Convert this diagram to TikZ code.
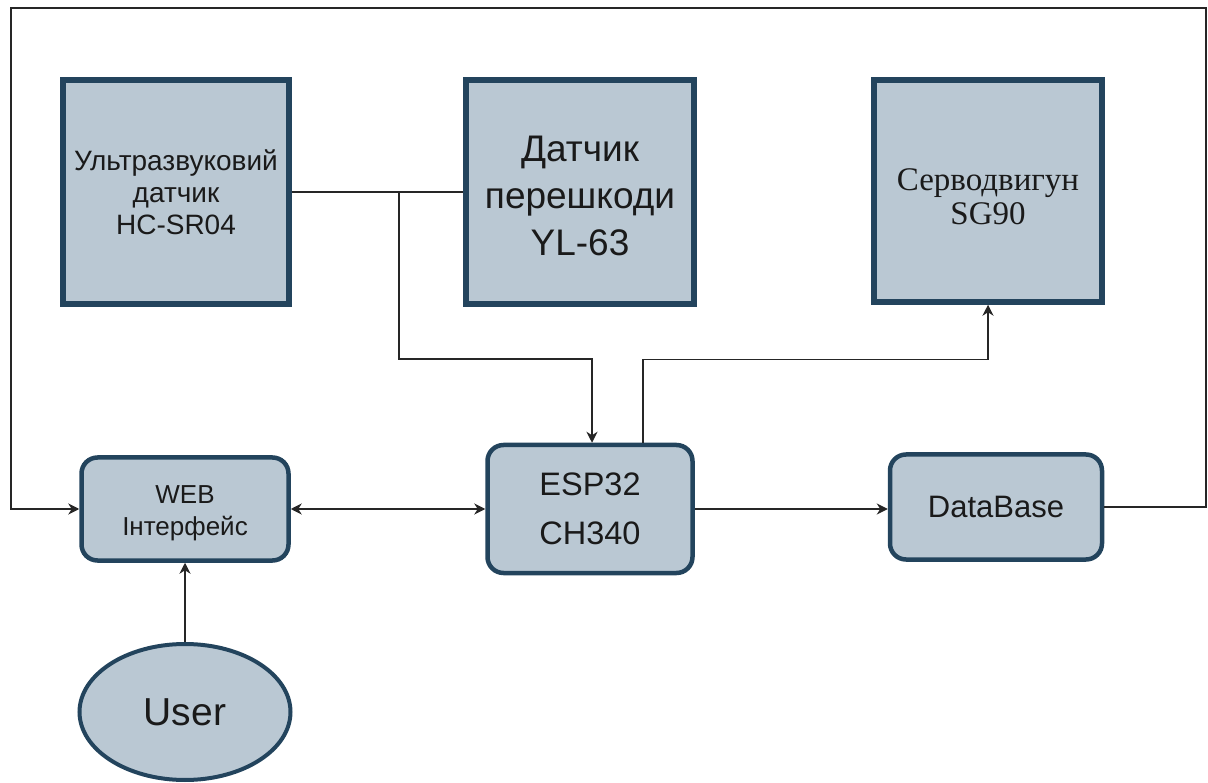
\documentclass[tikz,border=0pt]{standalone}
\usepackage{fontspec}
\setmainfont{Liberation Sans}
\newfontfamily\tnr{Liberation Serif}
\usetikzlibrary{arrows.meta,shapes.geometric,calc}
\definecolor{boxfill}{HTML}{BAC8D3}
\definecolor{boxline}{HTML}{23445D}
\definecolor{txt}{HTML}{1A1A1A}
\tikzset{
  sqbox/.style={draw=boxline, fill=boxfill, line width=5.5pt, align=center, text=txt, inner sep=0pt},
  rbox/.style={draw=boxline, fill=boxfill, line width=4.5pt, rounded corners=16pt, align=center, text=txt, inner sep=0pt},
  ubox/.style={draw=boxline, fill=boxfill, line width=4pt, ellipse, align=center, text=txt, inner sep=0pt},
  inlabel/.style={align=center, text=txt, inner sep=0pt},
  conn/.style={draw=black!85, line width=1.4pt},
  tip/.style={-{Stealth[length=11pt,width=11pt,inset=3.5pt]}},
  dtip/.style={{Stealth[length=11pt,width=11pt,inset=3.5pt]}-{Stealth[length=11pt,width=11pt,inset=3.5pt]}}
}
\begin{document}
\begin{tikzpicture}[x=1pt,y=-1pt]
\useasboundingbox (0,0) rectangle (1208,783);
\node[sqbox, minimum width=226pt, minimum height=224pt, font=\fontsize{28}{32}\selectfont] (ultra) at (176,192) {Ультразвуковий\\датчик\\HC-SR04};
\node[sqbox, minimum width=228pt, minimum height=224pt,
  label={[inlabel, yshift=-3.5pt, font=\fontsize{37}{47}\selectfont]center:{Датчик\\перешкоди\\YL-63}}] (yl) at (580,192) {};
\node[sqbox, minimum width=228pt, minimum height=222pt,
  label={[inlabel, yshift=-6pt, font=\tnr\fontsize{33}{34}\selectfont]center:{Серводвигун\\SG90}}] (servo) at (988,191) {};
\node[rbox, minimum width=207pt, minimum height=103pt,
  label={[inlabel, yshift=-4.5pt, font=\fontsize{26}{32}\selectfont]center:{WEB\\Інтерфейс}}] (web) at (185,509) {};
\node[rbox, minimum width=205pt, minimum height=128pt, font=\fontsize{32.5}{49}\selectfont] (esp) at (590,509) {ESP32\\CH340};
\node[rbox, minimum width=212pt, minimum height=105pt, font=\fontsize{31}{36}\selectfont] (db) at (996,507) {DataBase};
\node[ubox, minimum width=211pt, minimum height=136pt, font=\fontsize{39}{44}\selectfont] (user) at (185,712) {User};
\coordinate (j) at (399,192);
\draw[conn] (ultra.east) -- (yl.west);
\draw[conn, tip] (j) -- (399,359) -| ([xshift=2pt]esp.north);
\draw[conn, tip] ([xshift=53pt]esp.north) -- ++(0,-83) -| (servo.south);
\draw[conn, dtip] (web.east) -- (esp.west);
\draw[conn, tip] (esp.east) -- (db.west |- esp.east);
\draw[conn, tip] (user.north) -- (web.south);
\draw[conn, tip] (db.east) -- (1206,507) -- (1206,8) -- (11,8) -- (11,509) -- (web.west);
\end{tikzpicture}
\end{document}
